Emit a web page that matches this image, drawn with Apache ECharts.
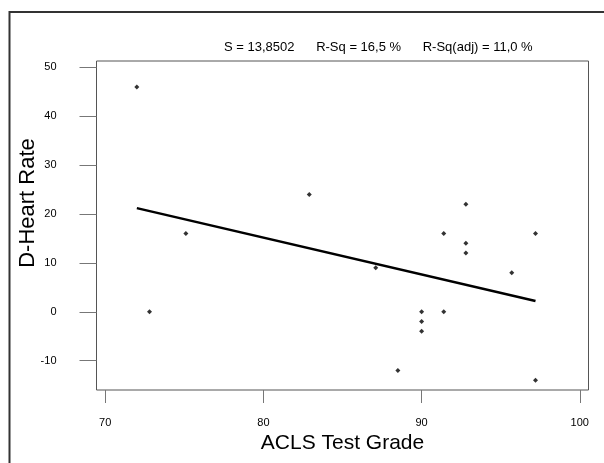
<!DOCTYPE html>
<html>
<head>
<meta charset="utf-8">
<script src="https://cdn.jsdelivr.net/npm/echarts@6/dist/echarts.min.js"></script>
<style>
  html, body { margin: 0; padding: 0; background: #fff; }
  #chart { width: 604px; height: 463px; }
</style>
</head>
<body>
<div id="chart"></div>
<script>
// ACLS test grade vs change in heart rate
const grade = [72, 72.8, 75.1, 82.9, 87.1, 88.5, 90, 90, 90, 91.4, 91.4, 92.8, 92.8, 92.8, 95.7, 97.2, 97.2];
const heartRate = [46, 0, 16, 24, 9, -12, 0, -2, -4, 16, 0, 22, 14, 12, 8, 16, -14];
// fitted regression line end points
const fitX = [72, 97.2];
const fitY = [21.2, 2.2];
const xTicks = [70, 80, 90, 100];
const yTicks = [-10, 0, 10, 20, 30, 40, 50];
const statsText = 'S = 13,8502      R-Sq = 16,5 %      R-Sq(adj) = 11,0 %';

const font = 'Liberation Sans, Arial, sans-serif';
const myChart = echarts.init(document.getElementById('chart'));
myChart.setOption({
    animation: false,
    backgroundColor: '#fff',
    grid: {
        left: 96.5,
        right: 15.5,
        top: 61,
        bottom: 73,
        show: true,
        borderColor: '#555',
        borderWidth: 1
    },
    title: {
        text: statsText,
        left: 219,
        top: 36,
        textStyle: {fontFamily: font, fontSize: 13, fontWeight: 'normal', color: '#000'}
    },
    xAxis: {
        type: 'value',
        min: 69.45,
        max: 100.55,
        name: 'ACLS Test Grade',
        nameLocation: 'middle',
        nameGap: 43,
        nameTextStyle: {fontFamily: font, fontSize: 21, color: '#000'},
        axisLine: {show: false, onZero: false},
        splitLine: {show: false},
        axisTick: {show: true, length: 13, customValues: xTicks, lineStyle: {color: '#777'}},
        axisLabel: {customValues: xTicks, margin: 27, fontFamily: font, fontSize: 11, color: '#000'}
    },
    yAxis: {
        type: 'value',
        min: -16,
        max: 51.3,
        axisLine: {show: false, onZero: false},
        splitLine: {show: false},
        axisTick: {show: true, length: 17, customValues: yTicks, lineStyle: {color: '#777'}},
        axisLabel: {customValues: yTicks, margin: 40, fontFamily: font, fontSize: 11, color: '#000'}
    },
    graphic: [
        {
            type: 'rect',
            shape: {x: 9.5, y: 12, width: 700, height: 600},
            style: {fill: 'none', stroke: '#333', lineWidth: 2}
        },
        {
            type: 'text',
            x: 28,
            y: 203,
            rotation: Math.PI / 2,
            style: {
                text: 'D-Heart Rate',
                font: '22px ' + font,
                fill: '#000',
                align: 'center',
                verticalAlign: 'middle'
            }
        }
    ],
    series: [
        {
            type: 'scatter',
            data: grade.map((g, i) => [g, heartRate[i]]),
            symbol: 'diamond',
            symbolSize: 5,
            itemStyle: {color: '#000'}
        },
        {
            type: 'line',
            data: fitX.map((x, i) => [x, fitY[i]]),
            symbol: 'none',
            lineStyle: {color: '#000', width: 2.5}
        }
    ]
});
</script>
</body>
</html>
